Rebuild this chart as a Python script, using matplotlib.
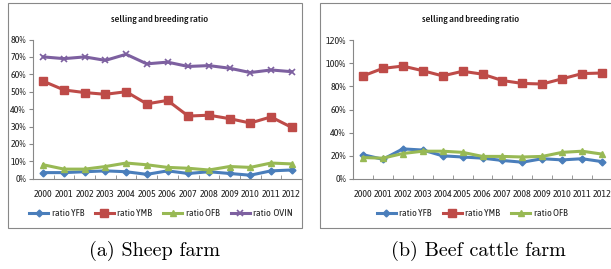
import matplotlib
matplotlib.use("Agg")
import matplotlib.pyplot as plt
from matplotlib.patches import Rectangle
from matplotlib.ticker import FuncFormatter, FixedLocator

years = [str(y) for y in range(2000, 2013)]

# sheep farm (percent)
sheep_yfb = [3.5, 3.5, 4, 4.5, 4, 2.5, 4.5, 3, 4, 3, 2, 4.5, 5]
sheep_ymb = [56, 51, 49.5, 48.5, 50, 43, 45, 36, 36.5, 34.5, 32, 35.5, 29.5]
sheep_ofb = [8, 5.5, 5.5, 7, 9, 8, 6.5, 6, 5, 7, 6.5, 9, 8.5]
sheep_ovin = [70, 69, 70, 68, 71.5, 66, 67, 64.5, 65, 63.5, 61, 62.5, 61.5]

# beef cattle farm (percent)
beef_yfb = [21, 17, 26, 25, 20, 19, 18, 16, 14.5, 17.5, 16.5, 17.5, 15]
beef_ymb = [89, 95.5, 97.5, 93.5, 89, 93, 90.5, 85, 82.5, 82, 86.5, 91, 91.5]
beef_ofb = [18.5, 18, 22, 24, 24, 23, 19.5, 19.5, 19, 19.5, 23, 24, 21.5]

plt.rcParams["font.family"] = ["Asap Condensed", "DejaVu Sans"]

W, H = 611, 269
fig = plt.figure(figsize=(W / 100, H / 100), dpi=100)

def px_axes(x0, x1, ytop, ybot):
	return fig.add_axes([x0 / W, (H - ybot) / H, (x1 - x0) / W, (ybot - ytop) / H])

# panel frames
for (x0, x1) in [(8, 302), (320, 616)]:
	fig.patches.append(Rectangle((x0 / W, (H - 228) / H), (x1 - x0) / W, 225 / H,
		transform=fig.transFigure, fill=False, edgecolor="#888888", linewidth=0.8))

cBlue = "#4A7EBB"
cRed = "#BE4B48"
cGreen = "#98B954"
cPurple = "#7D60A0"

styles = {
	"ratio YFB": dict(color=cBlue, marker="D", markersize=3.5),
	"ratio YMB": dict(color=cRed, marker="s", markersize=5.5),
	"ratio OFB": dict(color=cGreen, marker="^", markersize=5),
	"ratio  OVIN": dict(color=cPurple, marker="x", markersize=5, markeredgewidth=1.2),
}

def draw_panel(ax, series, ymax, ystep, title, title_x, leg_box):
	x = list(range(len(years)))
	for name, vals in series:
		ax.plot(x, vals, linewidth=2.2, label=name, **styles[name])
	ax.set_xlim(-0.5, len(years) - 0.5)
	ax.set_ylim(0, ymax)
	ax.set_yticks(range(0, ymax + 1, ystep))
	ax.yaxis.set_major_formatter(FuncFormatter(lambda v, p: "%d%%" % v))
	ax.set_xticks(x)
	ax.set_xticklabels(years)
	ax.xaxis.set_minor_locator(FixedLocator([i + 0.5 for i in range(-1, len(years))]))
	ax.tick_params(axis="x", which="major", length=0, pad=8, labelsize=7.2, colors="#222222")
	ax.tick_params(axis="x", which="minor", length=3, direction="in", color="#888888")
	ax.tick_params(axis="y", length=3, color="#888888", labelsize=7.2, labelcolor="#222222", pad=2)
	for s in ["top", "right"]:
		ax.spines[s].set_visible(False)
	for s in ["left", "bottom"]:
		ax.spines[s].set_color("#888888")
		ax.spines[s].set_linewidth(0.8)
	ax.patch.set_alpha(0)
	fig.text(title_x / W, (H - 19) / H, title, ha="center", va="center",
		fontsize=7.5, fontweight="medium", color="#111111")
	ax.legend(loc="center", bbox_to_anchor=leg_box, bbox_transform=fig.transFigure,
		ncol=len(series), frameon=False, fontsize=7.2, handlelength=1.9,
		columnspacing=1.1, handletextpad=0.35, labelcolor="#222222")

ax1 = px_axes(33, 302, 39.5, 178.7)
draw_panel(ax1, [("ratio YFB", sheep_yfb), ("ratio YMB", sheep_ymb),
	("ratio OFB", sheep_ofb), ("ratio  OVIN", sheep_ovin)],
	80, 10, "selling and breeding ratio", 160, (161 / W, (H - 214) / H))

ax2 = px_axes(353, 612, 40, 179)
draw_panel(ax2, [("ratio YFB", beef_yfb), ("ratio YMB", beef_ymb),
	("ratio OFB", beef_ofb)],
	120, 20, "selling and breeding ratio", 471, (472 / W, (H - 214) / H))

fig.text(155 / W, (H - 251) / H, "(a) Sheep farm", ha="center", va="center",
	fontsize=14.5, family="cmr10")
fig.text(478 / W, (H - 251) / H, "(b) Beef cattle farm", ha="center", va="center",
	fontsize=14.5, family="cmr10")

plt.savefig("out.png", dpi=100)
